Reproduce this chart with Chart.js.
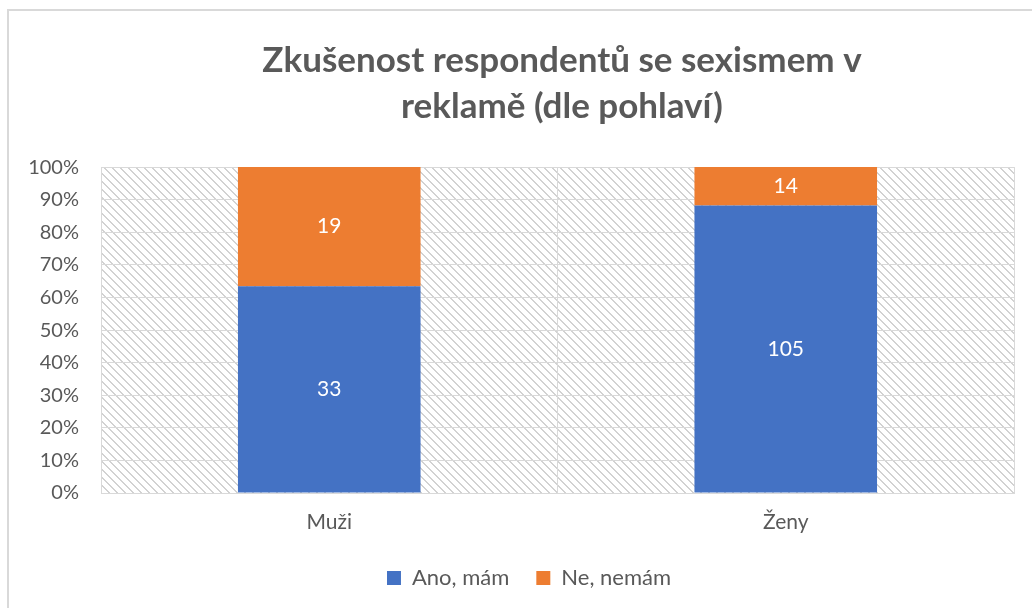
<!DOCTYPE html>
<html><head><meta charset="utf-8">
<script src="https://cdn.jsdelivr.net/npm/chart.js@4/dist/chart.umd.min.js"></script>
<style>
html,body{margin:0;padding:0;background:#fff;overflow:hidden}
#frame{position:absolute;left:7px;top:9px;width:1100px;height:700px;border-left:2px solid #d9d9d9;border-top:2px solid #d9d9d9;box-sizing:border-box}
#wrap{position:absolute;left:0;top:0;width:1032px;height:608px}
</style></head>
<body><div id="frame"></div><div id="wrap"><canvas id="c"></canvas></div>
<script>
const categories = ['Muži', 'Ženy'];
const seriesNames = ['Ano, mám', 'Ne, nemám'];
const anoValues = [33, 105];
const neValues = [19, 14];
const seriesColors = ['#4472C4', '#ED7D31'];
const titleLines = ['Zkušenost respondentů se sexismem v', 'reklamě (dle pohlaví)'];
const yTicks = [0, 10, 20, 30, 40, 50, 60, 70, 80, 90, 100];

const totals = categories.map((_, i) => anoValues[i] + neValues[i]);
const toPct = arr => arr.map((v, i) => v / totals[i] * 100);

const tile = document.createElement('canvas');
tile.width = 8; tile.height = 8;
const tc = tile.getContext('2d');
tc.fillStyle = '#ffffff'; tc.fillRect(0, 0, 8, 8);
tc.fillStyle = '#d2d2d2';
for (let i = 0; i < 8; i++) { tc.fillRect(i, i, 1, 1); tc.fillRect((i + 1) % 8, i, 1, 1); }
const hatch = tc.createPattern(tile, 'repeat');

const FONT = 'Lato, "Open Sans", sans-serif';
const GREY = '#595959';

const bgPlugin = {
  id: 'plotBg',
  beforeDraw(chart) {
    const a = chart.chartArea, ctx = chart.ctx;
    ctx.save(); ctx.fillStyle = hatch;
    ctx.fillRect(a.left, a.top, a.right - a.left, a.bottom - a.top);
    ctx.restore();
  }
};
const shiftPlugin = {
  id: 'shift',
  afterLayout(chart) {
    chart.titleBlock.left += 51; chart.titleBlock.right += 51;
    chart.legend.left += 18; chart.legend.right += 18;
    chart.legend.top += 7; chart.legend.bottom += 7;
  }
};
const labelPlugin = {
  id: 'segLabels',
  afterDatasetsDraw(chart) {
    const ctx = chart.ctx;
    ctx.save();
    ctx.fillStyle = '#ffffff';
    ctx.font = '21px ' + FONT;
    ctx.textAlign = 'center'; ctx.textBaseline = 'middle';
    chart.data.datasets.forEach((ds, di) => {
      const meta = chart.getDatasetMeta(di);
      meta.data.forEach((el, i) => {
        const p = el.getProps(['x', 'y', 'base'], true);
        ctx.fillText(String(ds.counts[i]), p.x, (p.y + p.base) / 2);
      });
    });
    ctx.restore();
  }
};

new Chart(document.getElementById('c'), {
  type: 'bar',
  data: {
    labels: categories,
    datasets: [
      { label: seriesNames[0], data: toPct(anoValues), counts: anoValues, backgroundColor: seriesColors[0], barPercentage: 0.4, categoryPercentage: 1 },
      { label: seriesNames[1], data: toPct(neValues), counts: neValues, backgroundColor: seriesColors[1], barPercentage: 0.4, categoryPercentage: 1 }
    ]
  },
  options: {
    responsive: true, maintainAspectRatio: false, animation: false,
    layout: { padding: { left: 8, right: 18, top: 0, bottom: 16 } },
    plugins: {
      title: { display: true, text: titleLines, color: GREY, font: { family: FONT, size: 35, weight: 'bold', lineHeight: 1.33 }, padding: { top: 37, bottom: 37 } },
      legend: { position: 'bottom', labels: { color: GREY, font: { family: FONT, size: 22 }, boxWidth: 14, boxHeight: 14, padding: 27 } },
      tooltip: { enabled: false }
    },
    scales: {
      x: {
        stacked: true,
        grid: { color: '#d9d9d9', offset: true, drawTicks: false },
        border: { color: '#d9d9d9' },
        ticks: { color: GREY, font: { family: FONT, size: 21 }, padding: 17 },
        afterFit(s) { s.height = 40; }
      },
      y: {
        stacked: true, min: 0, max: 100,
        afterBuildTicks(s) { s.ticks = yTicks.map(v => ({ value: v })); },
        grid: { color: '#d9d9d9', drawTicks: false },
        border: { display: false },
        ticks: { color: GREY, font: { family: FONT, size: 20 }, padding: 22, callback: v => v + '%' },
        afterFit(s) { s.width = 93; }
      }
    }
  },
  plugins: [bgPlugin, shiftPlugin, labelPlugin]
});
</script>
</body></html>
